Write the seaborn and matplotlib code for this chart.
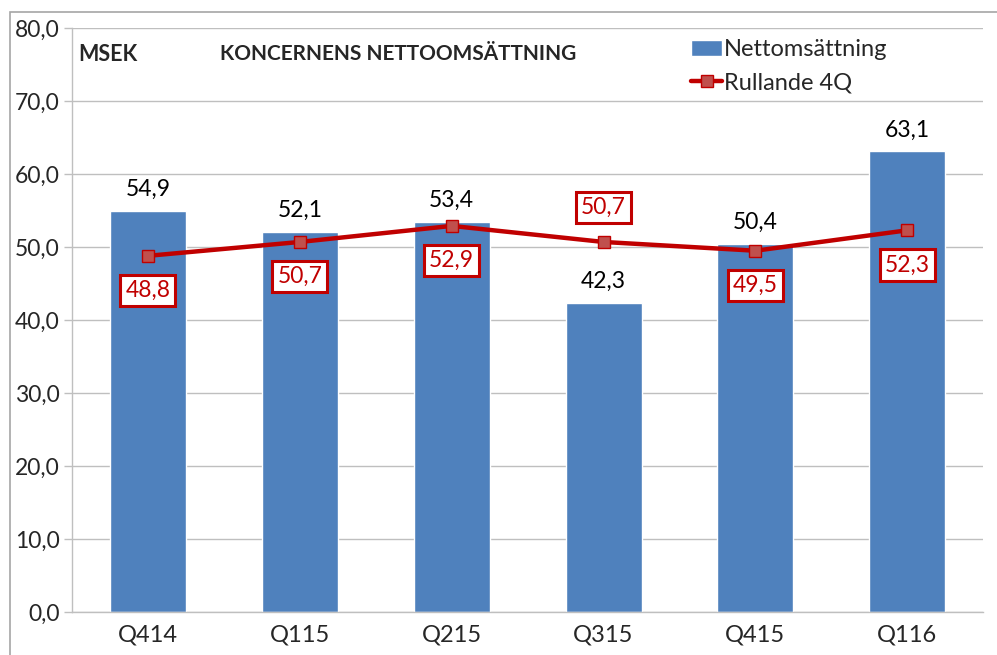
import matplotlib
matplotlib.use("Agg")
import matplotlib.pyplot as plt
import seaborn as sns
from matplotlib.patches import Rectangle

quarters = ["Q414", "Q115", "Q215", "Q315", "Q415", "Q116"]
netsales = [54.9, 52.1, 53.4, 42.3, 50.4, 63.1]
rolling = [48.8, 50.7, 52.9, 50.7, 49.5, 52.3]
# where the rolling label sits: -1 below the point, +1 above
roll_label_side = [-1, -1, -1, 1, -1, -1]
yticks = [0, 10, 20, 30, 40, 50, 60, 70, 80]

bar_color = "#4F81BD"
line_color = "#C00000"
marker_color = "#C0504D"
grid_color = "#BFBFBF"

sns.set_style("white")
plt.rcParams["font.family"] = ["Lato", "DejaVu Sans"]

fig = plt.figure(figsize=(9.97, 6.55), dpi=100)
ax = fig.add_axes([0.0722, 0.0656, 0.914, 0.8915])

sns.barplot(x=quarters, y=netsales, color=bar_color, width=0.5,
            saturation=1, ax=ax, label="Nettomsättning", zorder=2)
sns.lineplot(x=quarters, y=rolling, color=line_color, linewidth=3.2,
             marker="s", markersize=9, markerfacecolor=marker_color,
             markeredgecolor=line_color, markeredgewidth=1,
             ax=ax, label="Rullande 4Q", zorder=3)

def fmt(v):
    return f"{v:.1f}".replace(".", ",")

for i, v in enumerate(netsales):
    ax.annotate(fmt(v), xy=(i, v), xytext=(0, 8), textcoords="offset points",
                ha="center", va="bottom", fontsize=16.5, color="black")

for i, (v, side) in enumerate(zip(rolling, roll_label_side)):
    ax.annotate(fmt(v), xy=(i, v), xytext=(0, 25 * side), textcoords="offset points",
                ha="center", va="center", fontsize=16.5, color=line_color, zorder=5,
                bbox=dict(boxstyle="square,pad=0.22", fc="white", ec=line_color, lw=2.2))

ax.set_ylim(0, 80)
ax.set_xlim(-0.5, len(quarters) - 0.5)
ax.set_yticks(yticks)
ax.set_yticklabels([fmt(t) for t in yticks], fontsize=16.5)
ax.set_xticks(range(len(quarters)))
ax.set_xticklabels(quarters, fontsize=17)
ax.set_xticks([i - 0.5 for i in range(len(quarters) + 1)], minor=True)
ax.tick_params(axis="x", which="major", length=0, pad=9)
ax.tick_params(axis="x", which="minor", length=6, color=grid_color, width=1)
ax.tick_params(axis="y", which="major", left=True, length=6, color=grid_color, width=1, pad=3)
ax.yaxis.grid(True, color=grid_color, linewidth=1, zorder=0)
ax.set_axisbelow(True)
for s in ["top", "right"]:
    ax.spines[s].set_visible(False)
for s in ["left", "bottom"]:
    ax.spines[s].set_color(grid_color)
    ax.spines[s].set_linewidth(1)

ax.text(0.007, 0.955, "MSEK", transform=ax.transAxes, fontsize=15.5,
        fontweight="bold", ha="left", va="center")
ax.text(0.162, 0.955, "KONCERNENS NETTOOMSÄTTNING", transform=ax.transAxes,
        fontsize=15, fontweight="bold", ha="left", va="center")

handles, labels = ax.get_legend_handles_labels()
order = [labels.index("Nettomsättning"), labels.index("Rullande 4Q")]
ax.legend([handles[k] for k in order], [labels[k] for k in order],
          loc="upper left", bbox_to_anchor=(0.664, 1.005), frameon=False,
          fontsize=17, handlelength=1.3, handletextpad=0.1, labelspacing=0.5,
          borderaxespad=0.2)

fig.patches.append(Rectangle((10 / 997, -0.01), 1.0, 1 - 12 / 655 + 0.01,
                             transform=fig.transFigure, fill=False,
                             ec="#A6A6A6", lw=1.2))

fig.savefig("out.png", dpi=100)
